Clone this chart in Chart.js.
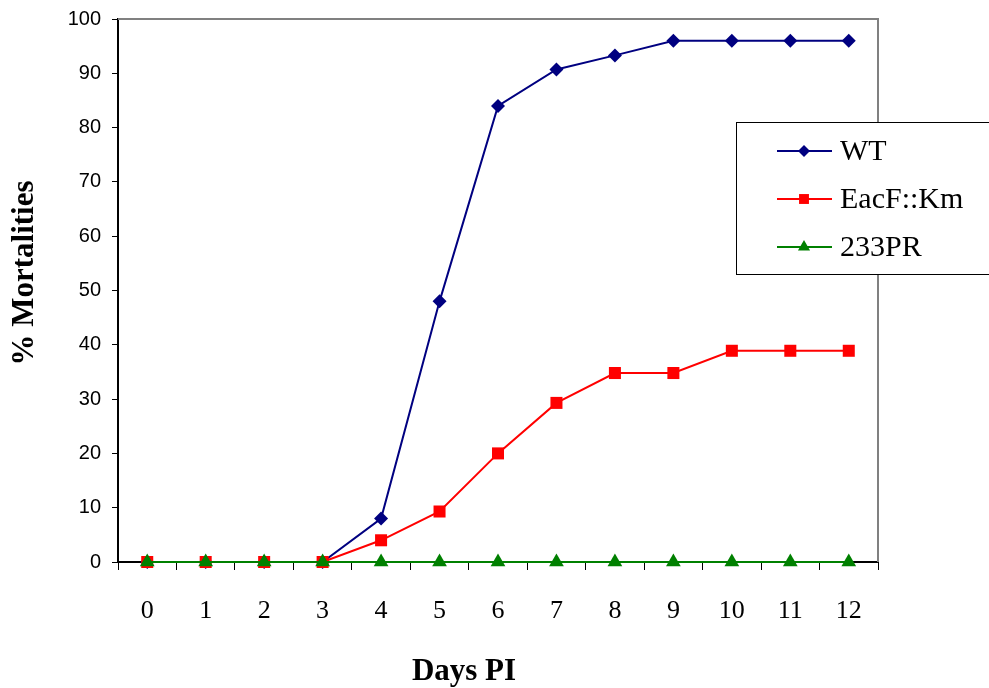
<!DOCTYPE html>
<html>
<head>
<meta charset="utf-8">
<script src="https://cdn.jsdelivr.net/npm/chart.js@4/dist/chart.umd.min.js"></script>
<style>
  html, body { margin: 0; padding: 0; background: #fff; }
  #wrap { position: relative; width: 989px; height: 688px; }
</style>
</head>
<body>
<div id="wrap"><canvas id="chart" width="989" height="688"></canvas></div>
<script>
const days = ["0", "1", "2", "3", "4", "5", "6", "7", "8", "9", "10", "11", "12"];
const wtValues = [0, 0, 0, 0, 8, 48, 84, 90.7, 93.3, 96, 96, 96, 96];
const eacfValues = [0, 0, 0, 0, 4, 9.3, 20, 29.3, 34.8, 34.8, 38.9, 38.9, 38.9];
const pr233Values = [0, 0, 0, 0, 0, 0, 0, 0, 0, 0, 0, 0, 0];
const yTicks = [0, 10, 20, 30, 40, 50, 60, 70, 80, 90, 100];

const NAVY = "#000080";
const RED = "#ff0000";
const GREEN = "#008000";
const SERIF = "'Liberation Serif', 'Times New Roman', serif";

const series = [
    { label: "WT", data: wtValues, color: NAVY, style: "rectRot", radius: 7, legendRadius: 6, order: 3 },
    { label: "EacF::Km", data: eacfValues, color: RED, style: "rect", radius: 8.5, legendRadius: 7, order: 2 },
    { label: "233PR", data: pr233Values, color: GREEN, style: "triangle", radius: 8.5, legendRadius: 7, order: 1 },
];

// gray top/right frame, axis titles and the boxed legend
const framePlugin = {
    id: "frame",
    afterDatasetsDraw(chart) {
        const { ctx, chartArea: a } = chart;
        ctx.save();
        ctx.strokeStyle = "#808080";
        ctx.lineWidth = 2;
        ctx.beginPath();
        ctx.moveTo(a.left, a.top);
        ctx.lineTo(a.right, a.top);
        ctx.lineTo(a.right, a.bottom);
        ctx.stroke();

        ctx.fillStyle = "#000";
        ctx.font = "bold 31px " + SERIF;
        ctx.textAlign = "center";
        ctx.textBaseline = "alphabetic";
        ctx.fillText("Days PI", 464, 680);

        ctx.save();
        ctx.translate(33, 273);
        ctx.rotate(-Math.PI / 2);
        ctx.fillText("% Mortalities", 0, 0);
        ctx.restore();

        // legend box
        const bx = 736.5, by = 122.5, bw = 260, bh = 152;
        ctx.fillStyle = "#fff";
        ctx.fillRect(bx, by, bw, bh);
        ctx.strokeStyle = "#000";
        ctx.lineWidth = 1;
        ctx.strokeRect(bx, by, bw, bh);

        const rowsY = [151, 199, 247];
        series.forEach((s, i) => {
            const y = rowsY[i];
            ctx.strokeStyle = s.color;
            ctx.lineWidth = 2;
            ctx.beginPath();
            ctx.moveTo(777, y);
            ctx.lineTo(832, y);
            ctx.stroke();
            ctx.fillStyle = s.color;
            Chart.helpers.drawPoint(ctx, { pointStyle: s.style, radius: s.legendRadius, borderWidth: 0 }, 804, y);
            ctx.fillStyle = "#000";
            ctx.font = "30px " + SERIF;
            ctx.textBaseline = "middle";
            ctx.textAlign = "left";
            ctx.fillText(s.label, 840, y + 1);
        });
        ctx.restore();
    },
};

new Chart(document.getElementById("chart"), {
    type: "line",
    data: {
        labels: days,
        datasets: series.map((s) => ({
            label: s.label,
            data: s.data,
            borderColor: s.color,
            backgroundColor: s.color,
            borderWidth: 2,
            pointStyle: s.style,
            pointRadius: s.radius,
            pointBorderWidth: 0,
            pointBackgroundColor: s.color,
            tension: 0,
            clip: false,
            order: s.order,
        })),
    },
    options: {
        responsive: false,
        animation: false,
        events: [],
        layout: { padding: { left: 0, right: 111, top: 19, bottom: 0 } },
        plugins: {
            legend: { display: false },
            tooltip: { enabled: false },
        },
        scales: {
            x: {
                type: "category",
                offset: true,
                grid: {
                    offset: true,
                    drawOnChartArea: false,
                    drawTicks: true,
                    tickLength: 8,
                    color: "#000",
                    lineWidth: 1,
                },
                border: { color: "#000", width: 2 },
                ticks: {
                    color: "#000",
                    padding: 26,
                    maxRotation: 0,
                    font: { family: SERIF, size: 26 },
                },
                afterFit(scale) { scale.height = 126; },
            },
            y: {
                min: 0,
                max: 100,
                afterBuildTicks(scale) { scale.ticks = yTicks.map((v) => ({ value: v })); },
                grid: {
                    drawOnChartArea: false,
                    drawTicks: true,
                    tickLength: 6,
                    color: "#000",
                },
                border: { color: "#000", width: 2 },
                ticks: {
                    color: "#000",
                    padding: 11,
                    font: { family: "'Liberation Sans', Arial, sans-serif", size: 20 },
                },
                afterFit(scale) {
                    scale.width = 118;
                    scale.paddingTop = 0;
                    scale.paddingBottom = 0;
                },
            },
        },
    },
    plugins: [framePlugin],
});
</script>
</body>
</html>
